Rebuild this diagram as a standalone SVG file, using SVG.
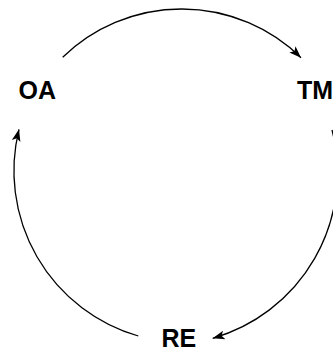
<svg xmlns="http://www.w3.org/2000/svg" width="333" height="349" viewBox="0 0 333 349">
<style>
.lbl{font-family:"Liberation Sans",Arial,sans-serif;font-weight:bold;font-size:25px;fill:#000}
.edge{fill:none;stroke:#000;stroke-width:1.3;marker-end:url(#ah)}
</style>
<defs>
<marker id="ah" markerUnits="userSpaceOnUse" markerWidth="15" markerHeight="12" refX="12" refY="5" orient="auto" overflow="visible">
<path d="M0,0.6 L12,5 L0,9.4 L2.8,5 Z" fill="#000"/>
</marker>
</defs>
<rect width="333" height="349" fill="#fff"/>
<g id="connectors">
<path class="edge" d="M62.7,57.3 A170.6,170.6 0 0 1 301,57.7"/>
<path class="edge" d="M332,130 A172,172 0 0 1 212.7,338.3"/>
<path class="edge" d="M138.3,336 A172,172 0 0 1 19,129.3"/>
</g>
<g id="OA"><text class="lbl" x="18.5" y="99">OA</text></g>
<g id="TM"><text class="lbl" x="297" y="99">TM</text></g>
<g id="RE"><text class="lbl" x="161.5" y="347">RE</text></g>
</svg>
